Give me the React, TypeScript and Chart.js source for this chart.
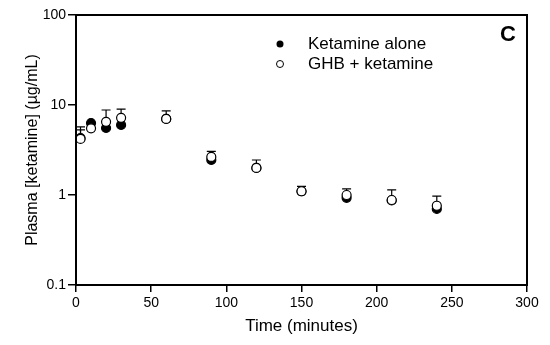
import React, { useEffect, useRef } from "react";
import { Chart, registerables } from "chart.js";

Chart.register(...registerables);

const times = [3, 10, 20, 30, 60, 90, 120, 150, 180, 210, 240];
const ketamineAlone = [4.3, 6.3, 5.55, 6.0, 7.0, 2.45, 2.0, 1.1, 0.93, 0.87, 0.7];
const ketamineAloneUpper = [5.3, null, null, null, null, null, null, null, null, null, null];
const ghbKetamine = [4.2, 5.5, 6.5, 7.2, 7.0, 2.65, 2.0, 1.1, 1.0, 0.88, 0.76];
const ghbKetamineUpper = [5.7, null, 8.8, 9.0, 8.6, 3.05, 2.45, 1.25, 1.17, 1.14, 0.97];
const yTicks = [0.1, 1, 10, 100];
const legendLabels = ["Ketamine alone", "GHB + ketamine"];
const panelLabel = "C";

const FONT = "'Liberation Sans', Arial, sans-serif";

const errorBarPlugin = {
  id: "errorBars",
  beforeDatasetsDraw(chart: any) {
    const ctx = chart.ctx;
    const xs = chart.scales.x;
    const ys = chart.scales.y;
    const sets = [
      { vals: ghbKetamine, up: ghbKetamineUpper },
      { vals: ketamineAlone, up: ketamineAloneUpper },
    ];
    ctx.save();
    ctx.strokeStyle = "#000";
    ctx.lineWidth = 1.2;
    sets.forEach((s) => {
      s.up.forEach((u: any, i: number) => {
        if (u == null) return;
        const x = xs.getPixelForValue(times[i]);
        const y0 = ys.getPixelForValue(s.vals[i]);
        const y1 = ys.getPixelForValue(u);
        ctx.beginPath();
        ctx.moveTo(x, y0);
        ctx.lineTo(x, y1);
        ctx.moveTo(x - 4.5, y1);
        ctx.lineTo(x + 4.5, y1);
        ctx.stroke();
      });
    });
    ctx.restore();
  },
  afterDraw(chart: any) {
    const ctx = chart.ctx;
    const a = chart.chartArea;
    ctx.save();
    ctx.strokeStyle = "#000";
    ctx.lineWidth = 2;
    ctx.strokeRect(a.left, a.top, a.right - a.left, a.bottom - a.top);
    // legend
    ctx.lineWidth = 1;
    ctx.fillStyle = "#000";
    ctx.beginPath();
    ctx.arc(280, 44, 3.5, 0, Math.PI * 2);
    ctx.fill();
    ctx.beginPath();
    ctx.arc(280, 64, 3.5, 0, Math.PI * 2);
    ctx.fillStyle = "#fff";
    ctx.fill();
    ctx.stroke();
    ctx.fillStyle = "#000";
    ctx.font = `17px ${FONT}`;
    ctx.textBaseline = "middle";
    ctx.textAlign = "left";
    ctx.fillText(legendLabels[0], 308, 44);
    ctx.fillText(legendLabels[1], 308, 64);
    ctx.font = `bold 22px ${FONT}`;
    ctx.textAlign = "center";
    ctx.fillText(panelLabel, 508, 35);
    ctx.restore();
  },
};

export default function App() {
  const ref = useRef<HTMLCanvasElement>(null);
  useEffect(() => {
    if (!ref.current) return;
    const chart = new Chart(ref.current, {
      type: "scatter",
      data: {
        datasets: [
          {
            label: legendLabels[1],
            data: times.map((t, i) => ({ x: t, y: ghbKetamine[i] })),
            pointRadius: 4.5,
            pointBorderWidth: 1.2,
            pointBackgroundColor: "#fff",
            pointBorderColor: "#000",
            showLine: false,
          },
          {
            label: legendLabels[0],
            data: times.map((t, i) => ({ x: t, y: ketamineAlone[i] })),
            pointRadius: 4.5,
            pointBorderWidth: 1.2,
            pointBackgroundColor: "#000",
            pointBorderColor: "#000",
            showLine: false,
          },
        ],
      },
      plugins: [errorBarPlugin],
      options: {
        animation: false,
        responsive: false,
        maintainAspectRatio: false,
        layout: { padding: { left: 0, top: 15, right: 23, bottom: 0 } },
        plugins: { legend: { display: false }, tooltip: { enabled: false } },
        scales: {
          x: {
            type: "linear",
            min: 0,
            max: 300,
            afterFit: (s: any) => {
              s.height = 60;
            },
            ticks: {
              stepSize: 50,
              color: "#000",
              font: { family: FONT, size: 14 },
              padding: 3,
            },
            grid: {
              drawOnChartArea: false,
              drawTicks: true,
              tickLength: 7,
              color: "#000",
              lineWidth: 1.5,
            },
            border: { display: false },
            title: {
              display: true,
              text: "Time (minutes)",
              color: "#000",
              font: { family: FONT, size: 17 },
              padding: { top: 0, bottom: 8 },
            },
          },
          y: {
            type: "logarithmic",
            min: 0.1,
            max: 100,
            afterFit: (s: any) => {
              s.width = 76;
            },
            afterBuildTicks: (s: any) => {
              s.ticks = yTicks.map((v) => ({ value: v }));
            },
            ticks: {
              color: "#000",
              font: { family: FONT, size: 14 },
              padding: 2,
              callback: (v: any) => String(v),
            },
            grid: {
              drawOnChartArea: false,
              drawTicks: true,
              tickLength: 8,
              color: "#000",
              lineWidth: 1.5,
            },
            border: { display: false },
            title: {
              display: true,
              text: "Plasma [ketamine] (µg/mL)",
              color: "#000",
              font: { family: FONT, size: 16 },
              padding: { top: 23, bottom: 0 },
            },
          },
        },
      },
    });
    return () => chart.destroy();
  }, []);
  return (
    <div style={{ position: "fixed", left: 0, top: 0, width: 550, height: 345, background: "#fff" }}>
      <canvas ref={ref} width={550} height={345} style={{ width: 550, height: 345 }} />
    </div>
  );
}
